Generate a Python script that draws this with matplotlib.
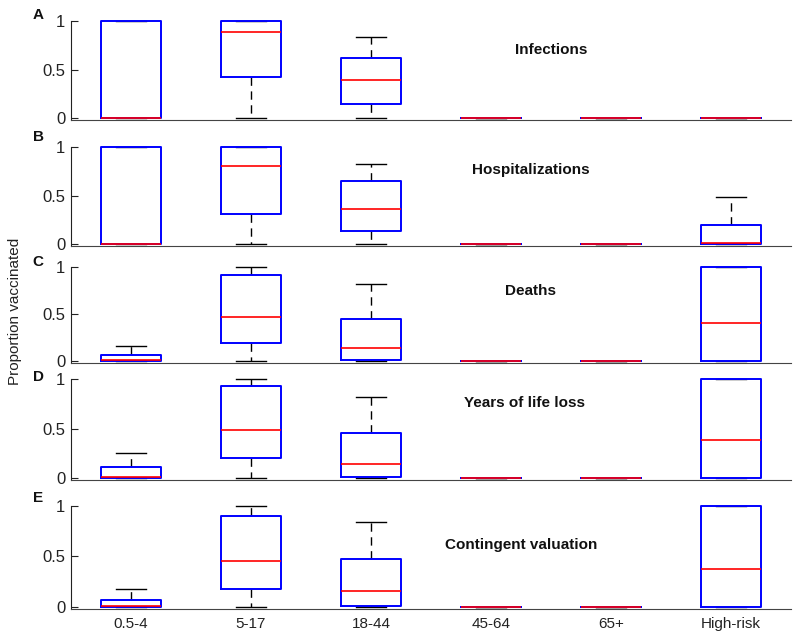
import numpy as np
import matplotlib.pyplot as plt

plt.rcParams['font.family'] = ['Liberation Sans', 'DejaVu Sans']

groups = ['0.5-4', '5-17', '18-44', '45-64', '65+', 'High-risk']
panel_letters = ['A', 'B', 'C', 'D', 'E']
panel_titles = ['Infections', 'Hospitalizations', 'Deaths', 'Years of life loss', 'Contingent valuation']

# box stats per panel: median, lower quartile, upper quartile, whisker low, whisker high
med = [
    [0.00, 0.89, 0.39, 0.0, 0.0, 0.00],
    [0.00, 0.80, 0.36, 0.0, 0.0, 0.01],
    [0.01, 0.47, 0.14, 0.0, 0.0, 0.41],
    [0.01, 0.48, 0.14, 0.0, 0.0, 0.38],
    [0.01, 0.46, 0.16, 0.0, 0.0, 0.38],
]
q1 = [
    [0.0, 0.42, 0.14, 0.0, 0.0, 0.0],
    [0.0, 0.31, 0.13, 0.0, 0.0, 0.0],
    [0.0, 0.19, 0.01, 0.0, 0.0, 0.0],
    [0.0, 0.20, 0.01, 0.0, 0.0, 0.0],
    [0.0, 0.18, 0.01, 0.0, 0.0, 0.0],
]
q3 = [
    [1.00, 1.00, 0.62, 0.0, 0.0, 0.00],
    [1.00, 1.00, 0.65, 0.0, 0.0, 0.20],
    [0.07, 0.91, 0.45, 0.0, 0.0, 1.00],
    [0.11, 0.93, 0.45, 0.0, 0.0, 1.00],
    [0.07, 0.90, 0.48, 0.0, 0.0, 1.00],
]
wlo = [
    [0.0, 0.0, 0.0, 0.0, 0.0, 0.0],
    [0.0, 0.0, 0.0, 0.0, 0.0, 0.0],
    [0.0, 0.0, 0.0, 0.0, 0.0, 0.0],
    [0.0, 0.0, 0.0, 0.0, 0.0, 0.0],
    [0.0, 0.0, 0.0, 0.0, 0.0, 0.0],
]
whi = [
    [1.00, 1.00, 0.83, 0.0, 0.0, 0.00],
    [1.00, 1.00, 0.83, 0.0, 0.0, 0.48],
    [0.16, 1.00, 0.82, 0.0, 0.0, 1.00],
    [0.25, 1.00, 0.82, 0.0, 0.0, 1.00],
    [0.18, 1.00, 0.84, 0.0, 0.0, 1.00],
]

# layout (pixels in 800x640 figure)
ax_tops = [21, 147, 267, 379, 506]
ax_bottoms = [120, 246, 363, 480, 609]
letter_y = [15, 137, 262, 377, 498]
title_pos = [(4.5, 0.70), (4.33, 0.76), (4.33, 0.75), (4.28, 0.76), (4.25, 0.61)]

W, H = 800, 640
fig = plt.figure(figsize=(8, 6.4), dpi=100)

for i in range(5):
    bottom = 1 - ax_bottoms[i] / H
    height = (ax_bottoms[i] - ax_tops[i]) / H
    ax = fig.add_axes([71 / W, bottom, 720 / W, height])
    stats = []
    for j in range(len(groups)):
        stats.append(dict(med=med[i][j], q1=q1[i][j], q3=q3[i][j],
                          whislo=wlo[i][j], whishi=whi[i][j], fliers=[]))
    ax.bxp(stats, positions=np.arange(1, 7), widths=0.5, capwidths=0.25,
           showfliers=False, manage_ticks=False,
           boxprops=dict(color='#0000ff', linewidth=1.4, zorder=4),
           medianprops=dict(color='#ff0000', linewidth=1.2, zorder=5),
           whiskerprops=dict(color='black', linewidth=1.0, linestyle=(0, (6, 4)), zorder=2),
           capprops=dict(color='black', linewidth=1.0, zorder=2))
    for art in ax.lines:
        art.set_clip_on(False)
    ax.set_xlim(0.5, 6.5)
    ax.set_ylim(-0.02, 1.0)
    ax.spines['top'].set_visible(False)
    ax.spines['right'].set_visible(False)
    ax.spines['left'].set_color('#222222')
    ax.spines['bottom'].set_color('#444444')
    ax.set_yticks([0, 0.5, 1])
    ax.set_yticklabels(['0', '0.5', '1'])
    ax.tick_params(axis='y', direction='in', length=5, labelsize=12, colors='#222222', pad=4)
    ax.set_xticks(np.arange(1, 7))
    if i == 4:
        ax.set_xticklabels(groups)
        ax.tick_params(axis='x', length=0, labelsize=11, colors='#222222', pad=6)
    else:
        ax.set_xticklabels([])
        ax.tick_params(axis='x', length=0)
    ax.text(title_pos[i][0], title_pos[i][1], panel_titles[i], ha='center', va='center',
            fontsize=11, fontweight='bold', color='#111111')
    fig.text(38 / W, 1 - letter_y[i] / H, panel_letters[i], ha='center', va='center',
             fontsize=11, fontweight='bold', color='#111111')

fig.text(15 / W, 1 - 311 / H, 'Proportion vaccinated', rotation=90, ha='center',
         va='center', fontsize=11, color='#222222')

fig.savefig('out.png', dpi=100)
